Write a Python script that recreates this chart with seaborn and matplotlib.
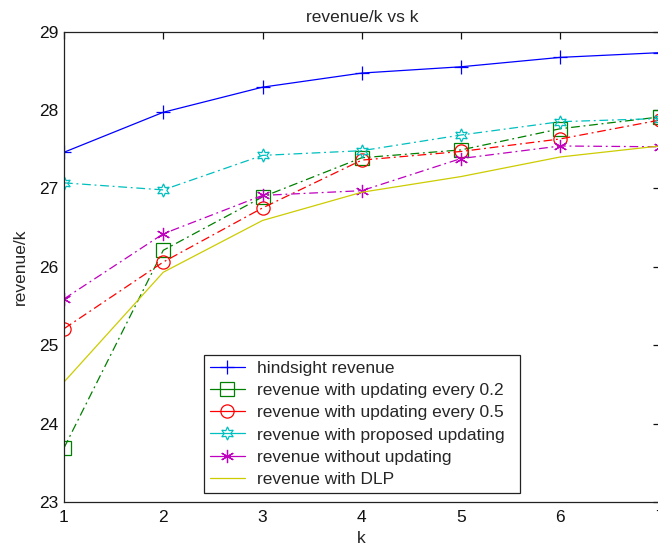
import numpy as np
import pandas as pd
import matplotlib
matplotlib.use("Agg")
import matplotlib.pyplot as plt
import seaborn as sns
from matplotlib.lines import Line2D

# Values of revenue/k for each k
k = [1, 2, 3, 4, 5, 6, 7]
hindsight = [27.46, 27.97, 28.29, 28.47, 28.55, 28.67, 28.73]
upd_02 = [23.69, 26.21, 26.89, 27.39, 27.49, 27.76, 27.91]
upd_05 = [25.21, 26.06, 26.75, 27.36, 27.47, 27.63, 27.87]
proposed = [27.07, 26.98, 27.42, 27.48, 27.68, 27.85, 27.89]
no_update = [25.59, 26.42, 26.91, 26.97, 27.38, 27.54, 27.53]
dlp = [24.53, 25.93, 26.59, 26.95, 27.15, 27.40, 27.54]

labels = [
    "hindsight revenue",
    "revenue with updating every 0.2",
    "revenue with updating every 0.5",
    "revenue with proposed updating",
    "revenue without updating",
    "revenue with DLP",
]
y_ticks = [23, 24, 25, 26, 27, 28, 29]
x_ticks = [1, 2, 3, 4, 5, 6, 7]

sns.set_style("white")
plt.rcParams["font.family"] = ["Liberation Sans", "DejaVu Sans"]
FS = 12.5
plt.rcParams["font.size"] = FS

fig = plt.figure(figsize=(6.58, 5.52), dpi=100)
W, H = 658, 552
# axes box in pixels: left 64, right 659.5, top 31.5, bottom 502
ax = fig.add_axes([64 / W, (H - 502) / H, (659.5 - 64) / W, (502 - 31.5) / H])

dashdot = (0, (7, 3, 1.5, 3))
series = [
    (hindsight, "#0000ff", "-", "+", {}),
    (upd_02, "#008000", dashdot, "s", {"markerfacecolor": "none"}),
    (upd_05, "#ff0000", dashdot, "o", {"markerfacecolor": "none"}),
    (proposed, "#00bfbf", dashdot, (6, 1, 0), {"markerfacecolor": "none"}),
    (no_update, "#bf00bf", dashdot, (6, 2, 0), {}),
    (dlp, "#cccc00", "-", None, {}),
]

handles = []
for (vals, col, ls, mk, extra), lab in zip(series, labels):
    df = pd.DataFrame({"k": k, "v": vals})
    kw = dict(color=col, linestyle=ls, linewidth=0.9)
    if mk is not None:
        kw.update(marker=mk, markersize=9.5, markeredgecolor=col,
                  markeredgewidth=0.9, **extra)
    sns.lineplot(data=df, x="k", y="v", ax=ax, **kw)
    hk = dict(color=col, linestyle="-", linewidth=0.9)
    if mk is not None:
        hk.update(marker=mk, markersize=9.5, markeredgecolor=col,
                  markeredgewidth=0.9, **extra)
    handles.append(Line2D([], [], **hk))

ax.set_xlim(1, 7)
ax.set_ylim(23, 29)
ax.set_xticks(x_ticks)
ax.set_yticks(y_ticks)
ax.set_xlabel("k", fontsize=FS, labelpad=4)
ax.set_ylabel("revenue/k", fontsize=FS, labelpad=8)
ax.set_title("revenue/k vs k", fontsize=FS, pad=7)

for s in ax.spines.values():
    s.set_visible(True)
    s.set_color("#222222")
    s.set_linewidth(0.9)
ax.tick_params(direction="in", length=5, width=0.9, top=True, right=True,
               labelsize=FS, colors="#111111")
ax.tick_params(axis="x", pad=6)
ax.tick_params(axis="y", pad=4)

# legend box spans 204..520 px horizontally, top at 355 px
leg = ax.legend(handles, labels, loc="upper left",
                bbox_to_anchor=(204 / W, 1 - 492 / H, (520 - 204) / W, (492 - 355) / H),
                bbox_transform=fig.transFigure, borderaxespad=0, mode="expand",
                fancybox=False, framealpha=1, edgecolor="#222222",
                fontsize=FS, handlelength=2.0, handletextpad=0.7,
                labelspacing=0.4, borderpad=0.35, numpoints=1)
leg.get_frame().set_linewidth(0.9)

fig.savefig("out.png", dpi=100)
